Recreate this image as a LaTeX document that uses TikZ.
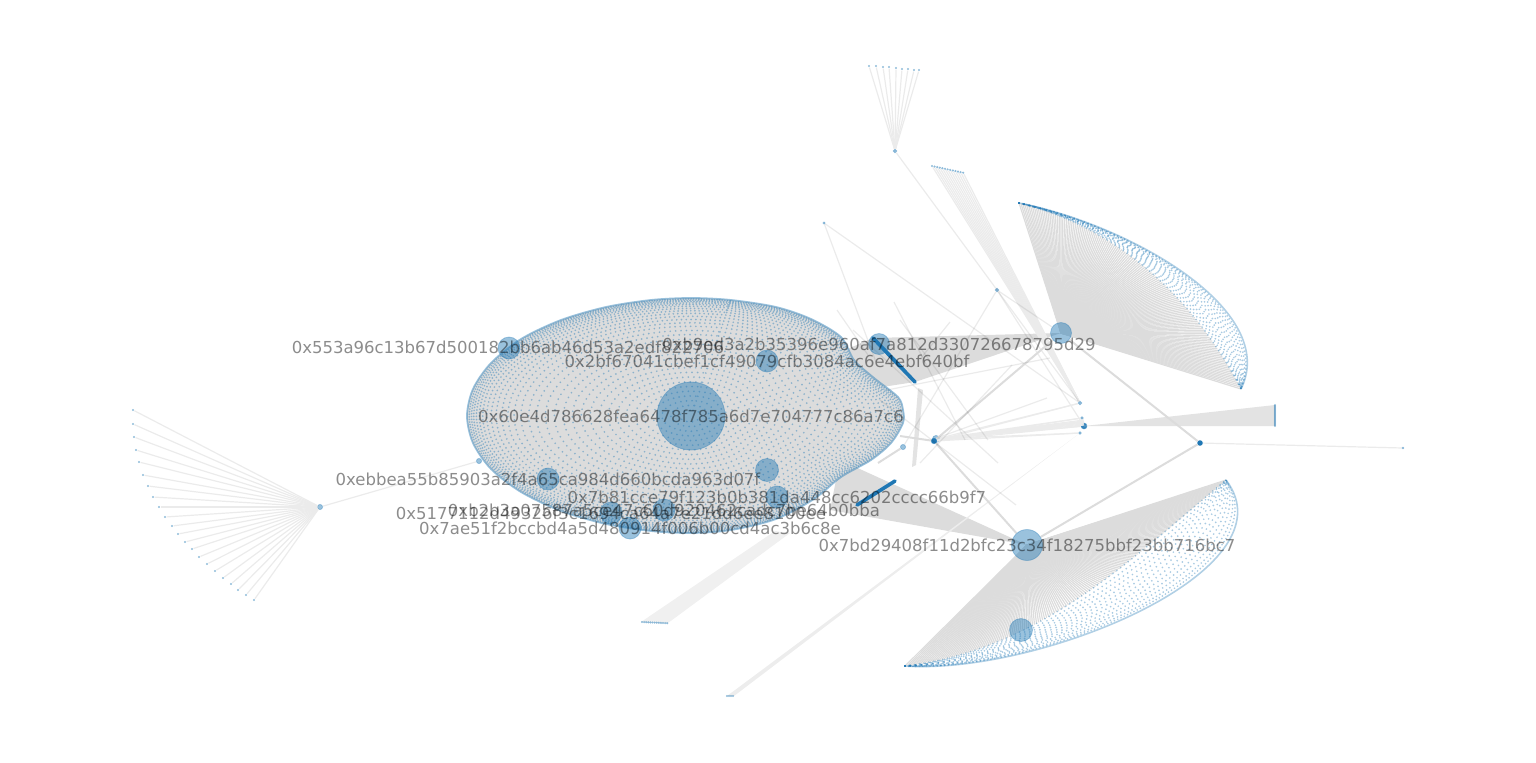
\documentclass[tikz,border=0pt]{standalone}
\usepackage{fontspec}
\setmainfont{DejaVu Sans}
\usetikzlibrary{calc}
\definecolor{hubblue}{HTML}{1F77B4}
\definecolor{fangray}{HTML}{DCDCDC}
\tikzset{
	hub/.style={circle, inner sep=0pt, minimum size=#1, fill=hubblue, fill opacity=0.45, draw=hubblue, draw opacity=0.35, line width=0.4pt},
	leaf/.style={circle, inner sep=0pt, minimum size=1.2pt, fill=hubblue, fill opacity=0.5},
	addr/.style={text=black, text opacity=0.45, inner sep=0pt, font=\fontsize{8.25}{10}\selectfont},
	paleedge/.style={draw=black, draw opacity=0.08, line width=0.6pt},
	fanpale/.style={draw=black!8, line width=0.6pt},
	midedge/.style={draw=fangray, line width=1pt},
	fanedge/.style={draw=fangray, line width=0.6pt},
	dotring/.style={draw=hubblue, draw opacity=0.42, line cap=round, line width=0.95pt, dash pattern=on 0pt off #1},
	rim/.style={draw=hubblue, draw opacity=0.45, line width=0.9pt},
	arcrim/.style={draw=hubblue, draw opacity=0.35, line width=0.8pt},
}
\def\blobshape[#1]{\draw[#1] plot[smooth cycle] coordinates {(0,-118) (40,-116) (85,-109) (120,-97) (150,-79) (163,-56) (183,-38) (207,-19) (212,-6) (212,7) (200,27) (180,44) (150,61) (123,83) (85,103) (40,114) (0,117) (-40,115) (-85,108) (-130,95) (-170,76) (-200,53) (-218,27) (-224,0) (-218,-27) (-200,-53) (-170,-77) (-130,-96) (-85,-109) (-40,-116)};}
% fan of #2 edges from node #1 onto the curve (#3) (#4) (#5) (#6)
\def\fanout#1#2#3#4#5#6{\foreach \i in {0,...,#2} {
	\path (#3) .. controls (#4) and (#5) .. (#6) coordinate[pos=\i/#2] (fanend);
	\draw[fanedge] (#1.center) -- (fanend);
}}
% rings of dots between two curves with the same end points
\def\crescent#1#2#3#4#5#6{\foreach \t/\gap in {0/2.4pt,0.08/2.5pt,0.16/2.6pt,0.24/2.7pt,0.32/2.8pt,0.4/2.8pt,0.48/2.8pt,0.56/2.7pt,0.64/2.6pt,0.72/2.4pt,0.8/2.2pt,0.88/2pt,0.94/1.8pt} {
	\draw[dotring=\gap, draw opacity=0.38] (#1) .. controls ($(#2)!\t!(#4)$) and ($(#3)!\t!(#5)$) .. (#6);
}}

\begin{document}
\begin{tikzpicture}[x=0.5pt, y=-0.5pt]
	%%%%% START %%%%%
	\useasboundingbox (0,0) rectangle (1536,762);
	
	\coordinate (mainpos) at (691,416);
	\coordinate (arcaA) at (1019,203);
	\coordinate (arcaB) at (1241,389);
	\coordinate (arcaC) at (1110,225);
	\coordinate (arcaD) at (1190,290);
	\coordinate (arcaE) at (1130,225);
	\coordinate (arcaF) at (1280,310);
	\coordinate (arcbA) at (905,666);
	\coordinate (arcbB) at (1226,480);
	\coordinate (arcbC) at (1040,650);
	\coordinate (arcbD) at (1130,560);
	\coordinate (arcbE) at (1040,675);
	\coordinate (arcbF) at (1295,570);
	
	\node[hub=10.5pt, fill opacity=0, draw opacity=0] (topright) at (1061,333) {};
	\node[hub=15.5pt, fill opacity=0, draw opacity=0] (lowright) at (1027,545) {};
	
	% wide fans first, they lie under everything else
	\coordinate (lozaA) at (873,338);
	\coordinate (lozaB) at (915,382);
	\coordinate (lozbA) at (895,481);
	\coordinate (lozbB) at (857,505);
	\fill[fangray] (topright.center) -- (lozaA) -- (lozaB) -- cycle;
	\fill[fangray] (mainpos) -- (lozaA) -- (lozaB) -- cycle;
	\coordinate (wedgeA) at (840,460);
	\coordinate (wedgeB) at (830,510);
	\fill[fangray] (lowright.center) -- (wedgeA) -- (wedgeB) -- cycle;
	\fanout{topright}{140}{arcaA}{arcaC}{arcaD}{arcaB}
	\fanout{lowright}{160}{arcbA}{arcbC}{arcbD}{arcbB}
	
	% pale bands
	\coordinate (bandaA) at (641,622);
	\coordinate (bandaB) at (668,623);
	\coordinate (bandaC) at (790,533);
	\coordinate (bandaD) at (775,531);
	\fill[black!6] (bandaA) -- (bandaB) -- (bandaC) -- (bandaD) -- cycle;
	\coordinate (bandbA) at (727,696);
	\coordinate (bandbB) at (734,696);
	\coordinate (bandbC) at (1080,433);
	\fill[black!7] (bandbA) -- (bandbB) -- (bandbC) -- cycle;
	\coordinate (bandcA) at (918,388);
	\coordinate (bandcB) at (923,390);
	\coordinate (bandcC) at (916,465);
	\coordinate (bandcD) at (912,467);
	\fill[black!11] (bandcA) -- (bandcB) -- (bandcC) -- (bandcD) -- cycle;
	
	% the big blob
	\blobshape[fill=fangray, draw=none, shift={(mainpos)}]
	\foreach \s/\gap in {0.99/1.3pt,0.98/1.4pt,0.97/1.5pt,0.958/1.6pt,0.945/1.7pt,0.93/1.9pt,0.912/2pt,0.892/2.1pt,0.87/2.2pt,0.845/2.3pt,0.818/2.4pt,0.79/2.5pt,0.76/2.6pt,0.725/2.7pt,0.69/2.7pt,0.65/2.8pt,0.61/2.8pt,0.57/2.8pt,0.53/2.8pt,0.49/2.8pt,0.45/2.8pt,0.41/2.8pt,0.37/2.8pt,0.33/2.8pt,0.29/2.8pt,0.25/2.8pt,0.21/2.8pt,0.17/2.8pt,0.13/2.8pt,0.09/2.8pt,0.05/2.8pt} {
		\blobshape[dotring=\gap, shift={(mainpos)}, scale=\s]
	}
	\blobshape[rim, shift={(mainpos)}]
	
	% crescents
	\crescent{arcaA}{arcaC}{arcaD}{arcaE}{arcaF}{arcaB}
	\draw[arcrim] (arcaA) .. controls (arcaE) and (arcaF) .. (arcaB);
	\crescent{arcbA}{arcbC}{arcbD}{arcbE}{arcbF}{arcbB}
	\draw[arcrim] (arcbA) .. controls (arcbE) and (arcbF) .. (arcbB);
	
	% small nodes
	\node[hub=2.6pt] (lefthub) at (320,507) {};
	\node[hub=2.6pt] (bridge) at (479,461) {};
	\node[hub=1.8pt] (tophub) at (895,151) {};
	\node[hub=1pt] (lonely) at (824,223) {};
	\node[hub=1.8pt] (upper) at (997,290) {};
	\node[hub=2.6pt] (midsmall) at (903,447) {};
	\node[hub=3.6pt] (midA) at (936,439) {};
	\node[hub=2.8pt, fill opacity=1] (midB) at (934,441) {};
	\node[hub=1.8pt] (rightA) at (1080,403) {};
	\node[hub=1.4pt] (rightB) at (1082,418) {};
	\node[hub=1.4pt] (rightC) at (1082,422) {};
	\node[hub=3pt, fill opacity=0.9] (rightD) at (1084,426) {};
	\node[hub=1.4pt] (rightE) at (1080,433) {};
	\node[hub=2.6pt, fill opacity=1] (farhub) at (1200,443) {};
	\node[hub=0.8pt] (farleaf) at (1403,448) {};
	
	% left fan
	\foreach \x/\y [count=\i] in {133/410,133/424,134/437,136/450,139/462,143/475,148/486,153/497,159/507,165/517,172/526,178/534,185/542,192/549,199/557,207/564,215/571,223/578,231/584,238/590,246/595,254/600} {
		\node[leaf] (lf\i) at (\x,\y) {};
		\draw[fanpale] (lefthub) -- (lf\i);
	}
	% top fan
	\foreach \x/\y [count=\i] in {869/66,876/66,883/67,889/67,896/68,902/69,908/69,914/70,919/70} {
		\node[leaf] (tf\i) at (\x,\y) {};
		\draw[fanpale] (tophub) -- (tf\i);
	}
	% narrow fan over the hub on the right
	\foreach \i in {0,...,12} {
		\node[leaf] (nf\i) at ({932+\i*2.6},{166+\i*0.56}) {};
		\draw[fanpale] (rightA) -- (nf\i);
	}
	% band and bar fans
	\foreach \i in {0,...,12} {
		\node[leaf] (ba\i) at ({642+\i*2.1},{622+\i*0.1}) {};
	}
	\foreach \i in {0,1,2,3} {
		\node[leaf] (bb\i) at ({727+\i*2},696) {};
	}
	\coordinate (barA) at (1275,405);
	\coordinate (barB) at (1275,426);
	\fill[black!11] (rightD.center) -- (barA) -- (barB) -- cycle;
	\foreach \i in {0,...,21} {
		\node[hub=1.2pt, draw opacity=0] (bar\i) at (1275,{405+\i}) {};
	}
	
	% single edges
	\draw[paleedge] (lefthub) -- (bridge);
	\draw[paleedge] (tophub) -- (rightA);
	\draw[paleedge] (lonely) -- (rightA);
	\coordinate (lonelyend) at (876,362);
	\draw[paleedge] (lonely) -- (lonelyend);
	\draw[paleedge] (upper) -- (topright);
	\draw[paleedge] (upper) -- (rightD);
	\draw[paleedge] (upper) -- (midsmall);
	\draw[paleedge] (farhub) -- (farleaf);
	\draw[midedge] (midB) -- (topright);
	\draw[midedge] (midB) -- (lowright);
	\draw[midedge] (topright) -- (farhub);
	\draw[midedge] (lowright) -- (farhub);
	\coordinate (blobedge) at (900,436);
	\draw[midedge] (midB) -- (blobedge);
	\coordinate (blobedgeb) at (878,463);
	\draw[midedge] (midsmall) -- (blobedgeb);
	\foreach \t in {rightA,rightB,rightC,rightD,rightE} {
		\draw[fanpale] (midB) -- (\t);
		\draw[fanpale] (midA) -- (\t);
	}
	\foreach \t in {0,1,2,3,4,5} {
		\coordinate (tipend) at (1084,{420+\t});
		\draw[fanpale] (midA) -- (tipend);
	}
	% thin strays crossing the middle
	\foreach \ax/\ay/\bx/\by [count=\i] in {900/320/988/440,950/322/921/358,1012/365/920/463,1047/398/937/438,1050/358/887/390,853/330/998/463,1016/505/880/400,837/310/868/355,894/302/965/440} {
		\coordinate (strayA\i) at (\ax,\ay);
		\coordinate (strayB\i) at (\bx,\by);
		\draw[paleedge] (strayA\i) -- (strayB\i);
	}
	
	% dark streaks
	\fill[hubblue] (lozaA) to[bend left=6] (lozaB) to[bend left=6] (lozaA);
	\fill[hubblue] (lozbA) to[bend left=6] (lozbB) to[bend left=6] (lozbA);
	\draw[hubblue, line width=1.8pt, line cap=round] (lozaA) -- (lozaB);
	\draw[hubblue, line width=1.8pt, line cap=round] (lozbA) -- (lozbB);
	
	% hubs with labels
	\node[hub=34pt] (main) at (mainpos) {};
	\node[hub=11pt] (n553a) at (509,348) {};
	\node[hub=10.5pt] (nb9ed) at (879,344) {};
	\node[hub=11pt] (n2bf6) at (767,361) {};
	\node[hub=11.5pt] (nplain) at (767,470) {};
	\node[hub=11pt] (nebbe) at (548,479) {};
	\node[hub=11pt] (n7b81) at (777,497) {};
	\node[hub=11pt] (nb2b3) at (664,510) {};
	\node[hub=11pt] (n5177) at (611,513) {};
	\node[hub=11pt] (n7ae5) at (630,528) {};
	\node[hub=10.5pt] (topdisc) at (topright) {};
	\node[hub=15.5pt] (lowdisc) at (lowright) {};
	\node[hub=11.5pt] (crescentdisc) at (1021,630) {};
	
	\node[addr] (l553a) at (508,347) {0x553a96c13b67d500182bb6ab46d53a2edf822706};
	\node[addr] (lb9ed) at (nb9ed) {0xb9ed3a2b35396e960af7a812d330726678795d29};
	\node[addr] (l2bf6) at (n2bf6) {0x2bf67041cbef1cf49079cfb3084ac6e4ebf640bf};
	\node[addr] (lmain) at (main) {0x60e4d786628fea6478f785a6d7e704777c86a7c6};
	\node[addr] (lebbe) at (nebbe) {0xebbea55b85903a2f4a65ca984d660bcda963d07f};
	\node[addr] (l7b81) at (n7b81) {0x7b81cce79f123b0b381da448cc6202cccc66b9f7};
	\node[addr] (lb2b3) at (nb2b3) {0xb2b3a07587a5ce47c60d920462cadc7be64b0bba};
	\node[addr] (l5177) at (n5177) {0x5177112d49326f3c1694ca64a7e21dd6ee8100ee};
	\node[addr] (l7ae5) at (n7ae5) {0x7ae51f2bccbd4a5d480914f006b00cd4ac3b6c8e};
	\node[addr] (l7bd2) at (lowdisc) {0x7bd29408f11d2bfc23c34f18275bbf23bb716bc7};
	
	%%%%% END %%%%%
\end{tikzpicture}
\end{document}
